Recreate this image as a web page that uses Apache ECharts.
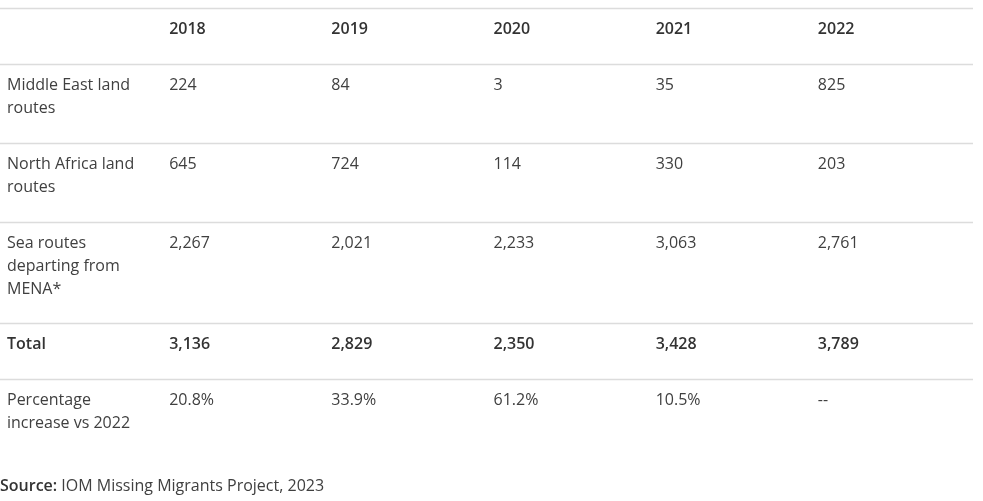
<!DOCTYPE html>
<html>
<head>
<meta charset="utf-8">
<script src="https://cdn.jsdelivr.net/npm/echarts@6/dist/echarts.min.js"></script>
<style>
html,body{margin:0;padding:0;background:#fff;}
#chart{width:983px;height:501px;}
</style>
</head>
<body>
<div id="chart"></div>
<script>
// ---- data ----
const years = ['2018', '2019', '2020', '2021', '2022'];
const routeLabels = ['Middle East land\nroutes', 'North Africa land\nroutes', 'Sea routes\ndeparting from\nMENA*'];
const middleEastLand = [224, 84, 3, 35, 825];
const northAfricaLand = [645, 724, 114, 330, 203];
const seaRoutesMENA = [2267, 2021, 2233, 3063, 2761];
const totalLabel = 'Total';
const totals = [3136, 2829, 2350, 3428, 3789];
const pctLabel = 'Percentage\nincrease vs 2022';
const pctIncreaseVs2022 = ['20.8%', '33.9%', '61.2%', '10.5%', '--'];
const sourceLabel = 'Source:';
const sourceText = 'IOM Missing Migrants Project, 2023';

// ---- build table rows ----
const fmt = v => typeof v === 'number' ? v.toLocaleString('en-US') : v;
const rows = [
  { label: '', cells: years, bold: true },
  { label: routeLabels[0], cells: middleEastLand.map(fmt), bold: false },
  { label: routeLabels[1], cells: northAfricaLand.map(fmt), bold: false },
  { label: routeLabels[2], cells: seaRoutesMENA.map(fmt), bold: false },
  { label: totalLabel, cells: totals.map(fmt), bold: true },
  { label: pctLabel, cells: pctIncreaseVs2022, bold: false }
];
const LINE_H = 22.8, ROW_PAD = 33.2, TABLE_TOP = 8;
let acc = TABLE_TOP;
rows.forEach(r => {
  const lines = Math.max(1, ...[r.label].concat(r.cells).map(t => String(t).split('\n').length));
  r.top = acc;
  r.height = ROW_PAD + LINE_H * lines;
  acc += r.height;
});

const columns = [''].concat(years);
const FONT = '"Open Sans", "Noto Sans", sans-serif';

const chart = echarts.init(document.getElementById('chart'), null, { renderer: 'canvas' });
chart.setOption({
  backgroundColor: '#fff',
  animation: false,
  title: {
    text: '{b|' + sourceLabel + '} ' + sourceText,
    left: 0, top: 476, padding: 0,
    textStyle: {
      fontFamily: FONT, fontSize: 16, fontWeight: 'normal', color: '#404040', lineHeight: 20,
      rich: { b: { fontFamily: FONT, fontSize: 16, fontWeight: 600, color: '#333', lineHeight: 20 } }
    }
  },
  grid: { left: 0, right: 10, top: 0, bottom: 0 },
  xAxis: { type: 'category', data: columns, show: false, boundaryGap: true },
  yAxis: { type: 'value', min: 0, max: 501, inverse: true, show: false },
  series: [{
    type: 'custom',
    coordinateSystem: 'cartesian2d',
    data: rows.map((r, i) => [0, r.top, i]),
    renderItem: function (params, api) {
      const r = rows[api.value(2)];
      const bw = api.size([1, 0])[0];
      const topPx = Math.round(api.coord([0, r.top])[1]);
      const x0 = api.coord([0, 0])[0] - bw / 2;
      const x1 = api.coord([columns.length - 1, 0])[0] + bw / 2;
      const children = [{
        type: 'line',
        shape: { x1: x0, y1: topPx + 0.5, x2: x1, y2: topPx + 0.5 },
        style: { stroke: '#dcdcdc', lineWidth: 1.5 }
      }];
      const texts = [r.label].concat(r.cells);
      texts.forEach((t, c) => {
        const cx = api.coord([c, 0])[0] - bw / 2 + 7;
        children.push({
          type: 'text',
          style: {
            text: String(t), x: cx, y: topPx + 10.5,
            fontFamily: FONT, fontSize: 16, fontWeight: r.bold ? 600 : 'normal',
            fill: r.bold ? '#333' : '#404040',
            lineHeight: LINE_H, align: 'left', verticalAlign: 'top'
          }
        });
      });
      return { type: 'group', children: children };
    }
  }]
});
</script>
</body>
</html>
